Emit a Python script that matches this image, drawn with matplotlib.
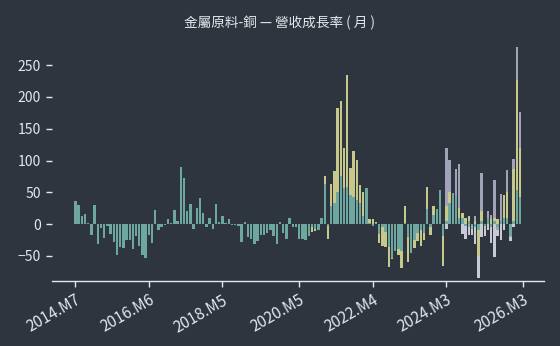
"""
Copper sector monthly revenue growth (YoY %), overlaid bars per company.
"""
import matplotlib
matplotlib.use('Agg')
import matplotlib.pyplot as plt
import numpy as np

plt.rcParams['font.family'] = ['Noto Sans CJK TC', 'DejaVu Sans']

# months from 2014.M7 onwards (index 0 = 2014.M7)
tick_idx = [0, 23, 46, 70, 93, 116, 140]
tick_labels = ['2014.M7', '2016.M6', '2018.M5', '2020.M5', '2022.M4', '2024.M3', '2026.M3']

# series A (teal), 2014.M7 - 2026.M2
growth_a = [37, 30, 12, 16, 2, -18, 30, -32, -6, -22,
            -3, -16, -29, -49, -36, -38, -25, -25, -40, -19,
            -34, -48, -54, -17, -30, 22, -10, -4, -1, 8,
            1, 22, 5, 90, 73, 20, 32, -7, 25, 41,
            18, -5, 9, -8, 32, 3, 13, 1, 8, -2,
            -2, -3, -28, 4, -20, -24, -31, -27, -17, -17,
            -14, -9, -19, -31, 3, -14, -24, 9, -4, -5,
            -24, -24, -25, -19, -5, -8, -9, 9, 63, -3,
            29, 33, 51, 75, 57, 59, 46, 43, 38, 33,
            13, 57, 2, -3, 2, -16, -5, -13, -36, -53,
            -43, -40, -43, 2, -20, -45, -25, -14, -10, -14,
            24, -5, 15, 23, 54, -19, 5, 33, 49, 45,
            10, 9, -3, 5, -3, -5, -9, 5, -3, 10,
            -5, 5, -5, 5, 10, 10, -19, 5, 54, 42]

# series B (yellow), 2020.M9 - 2026.M2
start_b = 74
growth_b = [-12, -11, -9, 9, 76, -23, 63, 84, 182, 194,
            119, 235, 88, 115, 101, 62, 50, 20, 8, 8,
            4, -30, -35, -36, -68, -55, -43, -48, -69, 29,
            -59, -30, -38, -27, -35, -25, 58, -18, 28, 15,
            20, -66, 28, 51, 10, 20, 25, 17, 9, 13,
            -5, 5, -51, 20, -10, 5, 8, 10, 8, 5,
            46, 50, -5, 86, 227, 119]

# series C (lavender), 2024.M3 - 2026.M2
start_c = 116
growth_c = [119, 101, 40, 86, 94, 10, 5, -5, -8, 12,
            -20, 80, -10, 20, 15, 70, -10, 48, 46, 85,
            -20, 102, 278, 177]

# series D (light grey), 2024.M3 - 2026.M2
start_d = 116
growth_d = [-8, 20, 30, 12, 15, -15, -24, -18, -17, -32,
            -85, -20, -19, -10, -30, -52, -19, -25, -10, 20,
            -27, -5, 30, 20]

bg = '#2f353f'
fg = '#e3e7ee'

fig = plt.figure(figsize=(5.6, 3.46), dpi=100, facecolor=bg)
ax = fig.add_axes([0.092, 0.189, 0.879, 0.696], facecolor=bg)

w = 0.75
ax.bar(np.arange(len(growth_d)) + start_d, growth_d, width=w, color='#c7cad7', linewidth=0)
ax.bar(np.arange(len(growth_c)) + start_c, growth_c, width=w, color='#a2a2b8', linewidth=0)
ax.bar(np.arange(len(growth_b)) + start_b, growth_b, width=w, color='#c6c98b', linewidth=0)
ax.bar(np.arange(len(growth_a)), growth_a, width=w, color='#6ea79f', linewidth=0)

ax.set_xlim(-7.44, 146.44)
ax.set_ylim(-89, 290)
ax.set_yticks([-50, 0, 50, 100, 150, 200, 250])
ax.set_xticks(tick_idx)
ax.set_xticklabels(tick_labels, rotation=30, ha='right', rotation_mode='anchor')

for s in ['top', 'right', 'left']:
    ax.spines[s].set_visible(False)
ax.spines['bottom'].set_color(fg)
ax.spines['bottom'].set_linewidth(1.0)
ax.tick_params(axis='both', colors=fg, length=4, width=1)
ax.tick_params(axis='y', labelsize=10)
ax.tick_params(axis='x', labelsize=11, pad=4)

fig.suptitle('金屬原料-銅 — 營收成長率 ( 月 )', color=fg, fontsize=9.8, y=0.955)

fig.savefig('out.png', dpi=100, facecolor=bg)
